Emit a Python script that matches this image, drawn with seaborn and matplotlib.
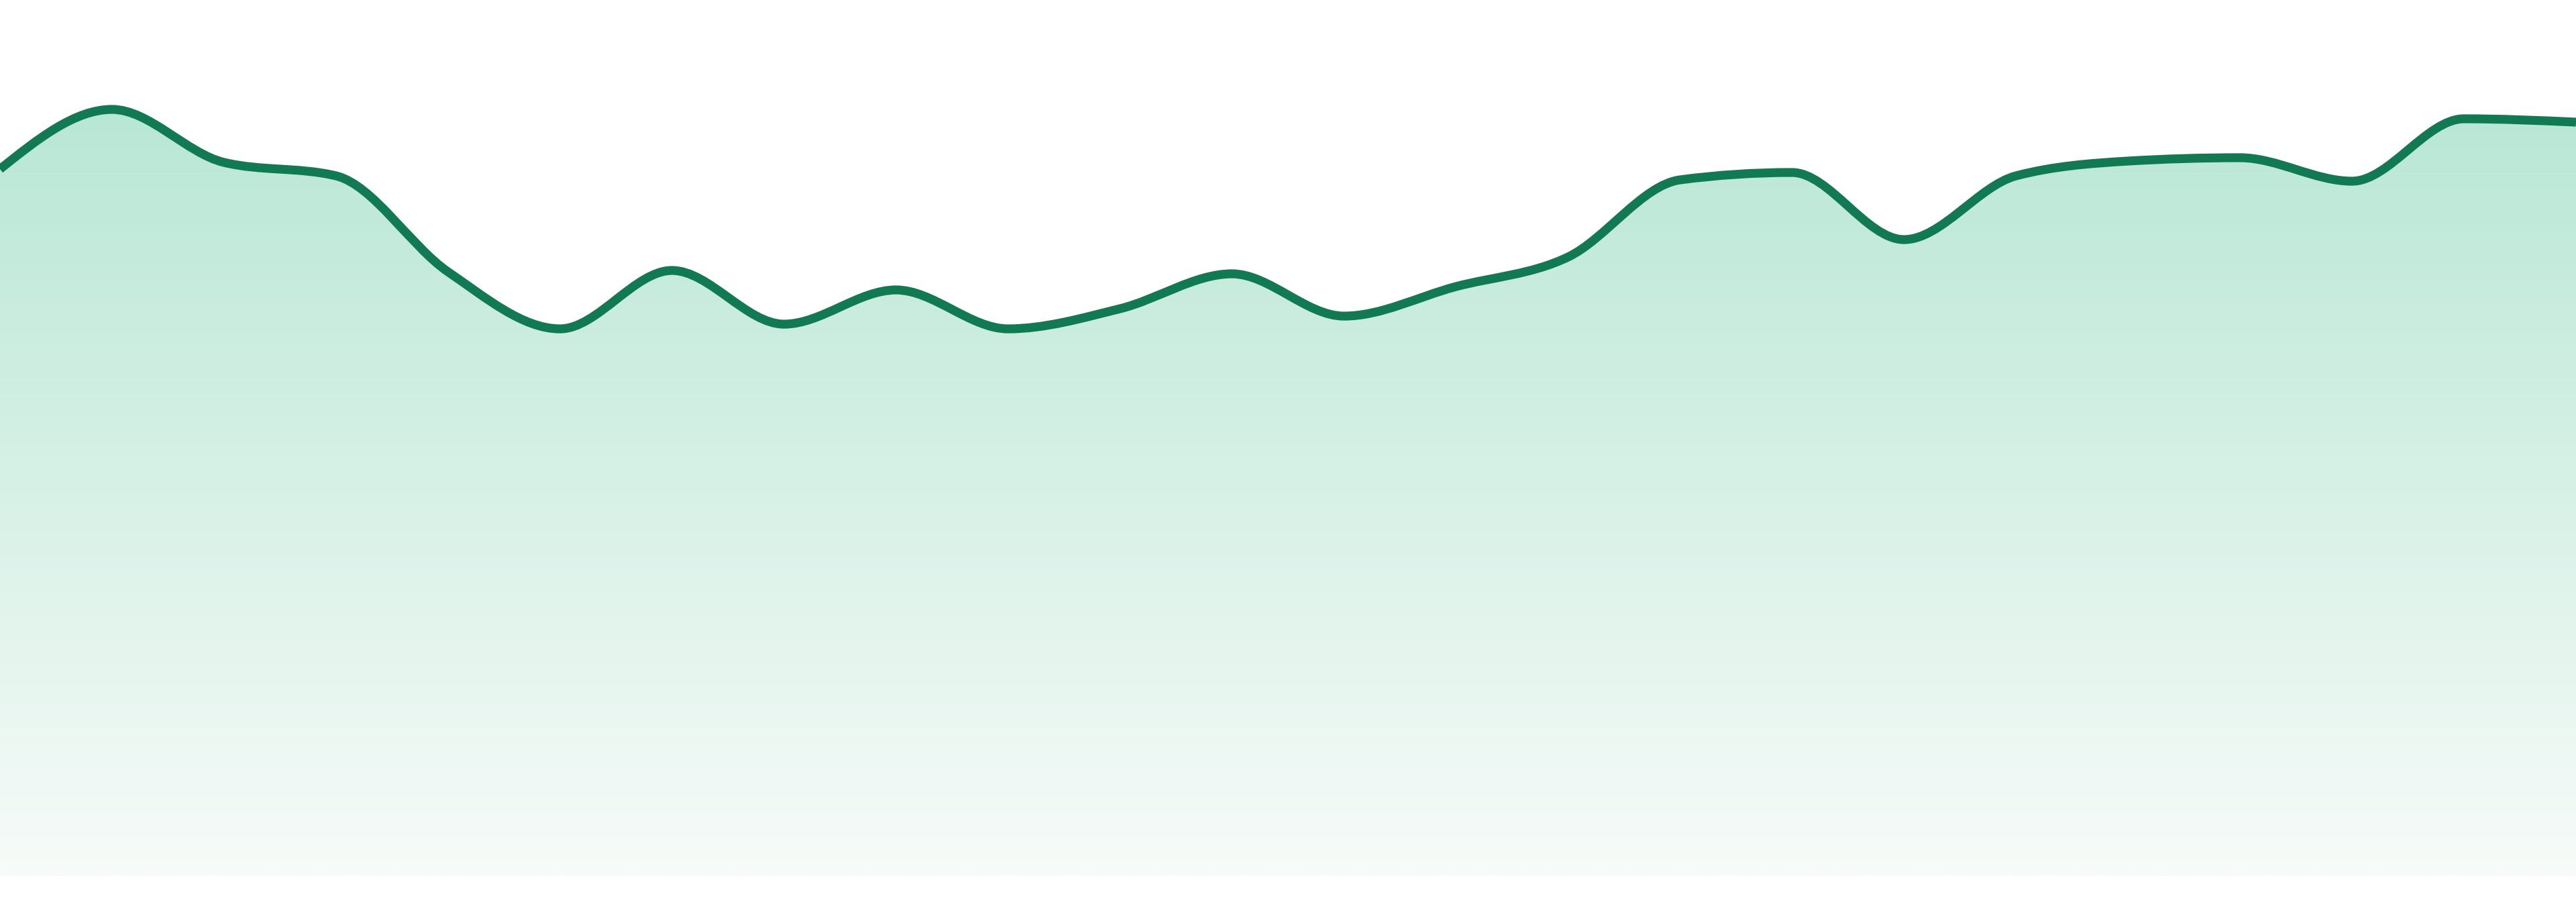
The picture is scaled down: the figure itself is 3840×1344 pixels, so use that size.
import numpy as np
import matplotlib
matplotlib.use("Agg")
import matplotlib.pyplot as plt
from matplotlib.path import Path
from matplotlib.patches import PathPatch
import seaborn as sns

# values, one per evenly spaced step
steps = list(range(24))
values = [105.3, 114.2, 106.3, 104.3, 90.0, 81.5, 90.2, 82.2, 87.3, 81.5,
          84.5, 89.7, 83.4, 87.8, 92.2, 103.7, 104.8, 94.8, 104.3, 106.5,
          107.0, 103.5, 112.8, 112.3]

LINE_COLOR = "#117a52"
TOP_RGB = (185, 231, 213)
BOTTOM_RGB = (247, 251, 249)


def monotone_slopes(x, y):
    """Tangents as in d3.curveMonotoneX."""
    x = np.asarray(x, float)
    y = np.asarray(y, float)
    n = len(x)
    t = np.zeros(n)
    for i in range(1, n - 1):
        h0, h1 = x[i] - x[i - 1], x[i + 1] - x[i]
        s0, s1 = (y[i] - y[i - 1]) / h0, (y[i + 1] - y[i]) / h1
        p = (s0 * h1 + s1 * h0) / (h0 + h1)
        t[i] = (np.sign(s0) + np.sign(s1)) * min(abs(s0), abs(s1), 0.5 * abs(p))
    h = x[1] - x[0]
    t[0] = (3 * (y[1] - y[0]) / h - t[1]) / 2
    h = x[-1] - x[-2]
    t[-1] = (3 * (y[-1] - y[-2]) / h - t[-2]) / 2
    return t


def curve_path(x, y, base=None):
    t = monotone_slopes(x, y)
    verts = [(x[0], y[0])]
    codes = [Path.MOVETO]
    for i in range(len(x) - 1):
        dx = (x[i + 1] - x[i]) / 3
        verts += [(x[i] + dx, y[i] + dx * t[i]),
                  (x[i + 1] - dx, y[i + 1] - dx * t[i + 1]),
                  (x[i + 1], y[i + 1])]
        codes += [Path.CURVE4] * 3
    if base is not None:
        verts += [(x[-1], base), (x[0], base), (x[0], y[0])]
        codes += [Path.LINETO, Path.LINETO, Path.CLOSEPOLY]
    return Path(verts, codes)


sns.set_theme(style="white")
plt.rcParams["savefig.bbox"] = "standard"
fig = plt.figure(figsize=(38.4, 13.44), dpi=100)
ax = fig.add_axes([0, 0, 1, 1])
ax.axis("off")

# gradient fill under the curve
top = max(values)
grad = np.linspace(0, 1, 256)[:, None]
rgb = np.empty((256, 1, 3))
for c in range(3):
    rgb[:, 0, c] = (TOP_RGB[c] + (BOTTOM_RGB[c] - TOP_RGB[c]) * grad[:, 0]) / 255
img = ax.imshow(rgb, extent=(steps[0], steps[-1], 0, top), origin="upper",
                aspect="auto", interpolation="bilinear", zorder=1)
fill_patch = PathPatch(curve_path(steps, values, base=0), facecolor="none",
                       edgecolor="none", transform=ax.transData)
ax.add_patch(fill_patch)
img.set_clip_path(fill_patch)

# the line itself
ax.add_patch(PathPatch(curve_path(steps, values), facecolor="none",
                       edgecolor=LINE_COLOR, linewidth=9.5, capstyle="butt",
                       joinstyle="round", zorder=3))

# imshow resets the limits, so fix them last
ax.set_xlim(steps[0], steps[-1])
ax.set_ylim(-3.9, 130.5)

fig.savefig("out.png", dpi=100, facecolor="white")
